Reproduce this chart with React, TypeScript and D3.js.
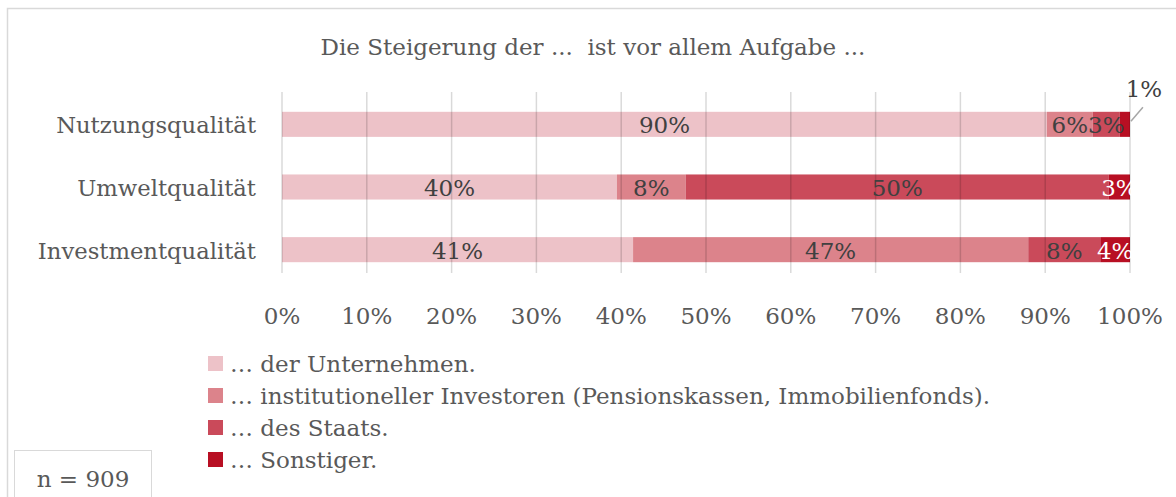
import React from "react";
import * as d3 from "d3";

const categories = ["Nutzungsqualität", "Umweltqualität", "Investmentqualität"];
const seriesNames = [
  "… der Unternehmen.",
  "… institutioneller Investoren (Pensionskassen, Immobilienfonds).",
  "… des Staats.",
  "… Sonstiger.",
];
// shares per category (series order as above)
const unternehmen = [0.902, 0.395, 0.414];
const investoren = [0.054, 0.081, 0.466];
const staat = [0.032, 0.499, 0.085];
const sonstige = [0.012, 0.025, 0.035];
// printed data labels
const labelsUnternehmen = ["90%", "40%", "41%"];
const labelsInvestoren = ["6%", "8%", "47%"];
const labelsStaat = ["3%", "50%", "8%"];
const labelsSonstige = ["1%", "3%", "4%"];
const ticks = [0, 0.1, 0.2, 0.3, 0.4, 0.5, 0.6, 0.7, 0.8, 0.9, 1.0];
const title = "Die Steigerung der ...  ist vor allem Aufgabe ...";
const nText = "n = 909";

const colors = ["#EDC2C8", "#DC838B", "#CA4A5A", "#B80F23"];
const labelColors = ["#404040", "#404040", "#404040", "#FFFFFF"];
const FONT = "'DejaVu Serif', serif";

export default function App() {
  const W = 1176;
  const H = 497;
  const x = d3.scaleLinear().domain([0, 1]).range([282, 1130]);
  const y = d3
    .scaleBand<string>()
    .domain(categories)
    .range([93, 281])
    .paddingInner(0.6)
    .paddingOuter(0.3);

  const series = [unternehmen, investoren, staat, sonstige];
  const labels = [labelsUnternehmen, labelsInvestoren, labelsStaat, labelsSonstige];
  const rows = categories.map((c, i) => {
    const obj: any = { cat: c };
    series.forEach((s, k) => (obj["s" + k] = s[i]));
    return obj;
  });
  const stack = d3.stack<any>().keys(["s0", "s1", "s2", "s3"])(rows);

  const bw = y.bandwidth();

  return (
    <svg
      width={W}
      height={H}
      style={{ position: "absolute", left: 0, top: 0, background: "#fff" }}
    >
      <rect x={7.5} y={8.5} width={1300} height={700} fill="#fff" stroke="#D9D9D9" strokeWidth={1.5} />
      <text
        x={593}
        y={55}
        textAnchor="middle"
        fontFamily={FONT}
        fontSize={23}
        fill="#595959"
        style={{ whiteSpace: "pre" }}
      >
        {title}
      </text>

      {/* bars */}
      {stack.map((layer, k) =>
        layer.map((d, i) => (
          <rect
            key={k + "-" + i}
            x={x(d[0])}
            y={y(categories[i])}
            width={x(d[1]) - x(d[0])}
            height={bw}
            fill={colors[k]}
          />
        ))
      )}

      {/* gridlines on top */}
      {ticks.map((t) => (
        <line
          key={"g" + t}
          x1={x(t)}
          x2={x(t)}
          y1={92}
          y2={273}
          stroke="rgba(0,0,0,0.15)"
          strokeWidth={1.5}
        />
      ))}

      {/* data labels */}
      {stack.map((layer, k) =>
        layer.map((d, i) => {
          const isOutside = k === 3 && i === 0;
          if (isOutside) return null;
          return (
            <text
              key={"l" + k + "-" + i}
              x={(x(d[0]) + x(d[1])) / 2}
              y={(y(categories[i]) as number) + bw / 2 + 9}
              textAnchor="middle"
              fontFamily={FONT}
              fontSize={23}
              fill={labelColors[k]}
            >
              {labels[k][i]}
            </text>
          );
        })
      )}
      {/* outside label for small segment */}
      {(() => {
        const d = stack[3][0];
        const cx = (x(d[0]) + x(d[1])) / 2;
        const cy = (y(categories[0]) as number) + bw / 2;
        return (
          <g>
            <line x1={cx + 6} y1={cy - 3} x2={cx + 18} y2={cy - 17} stroke="#A6A6A6" strokeWidth={1.5} />
            <text x={cx + 19} y={cy - 27} textAnchor="middle" fontFamily={FONT} fontSize={23} fill="#404040">
              {labels[3][0]}
            </text>
          </g>
        );
      })()}

      {/* category labels */}
      {categories.map((c) => (
        <text
          key={c}
          x={256}
          y={(y(c) as number) + bw / 2 + 9}
          textAnchor="end"
          fontFamily={FONT}
          fontSize={22.7}
          fill="#595959"
        >
          {c}
        </text>
      ))}

      {/* tick labels */}
      {ticks.map((t) => (
        <text
          key={"t" + t}
          x={x(t)}
          y={324}
          textAnchor="middle"
          fontFamily={FONT}
          fontSize={23}
          fill="#595959"
        >
          {d3.format(".0%")(t)}
        </text>
      ))}

      {/* legend */}
      {seriesNames.map((n, k) => (
        <g key={n} transform={`translate(208, ${356 + k * 32})`}>
          <rect x={0} y={0} width={15} height={15} fill={colors[k]} />
          <text x={22} y={16} fontFamily={FONT} fontSize={23} fill="#595959">
            {n}
          </text>
        </g>
      ))}

      {/* n box */}
      <rect x={14.5} y={450.5} width={137} height={80} fill="#fff" stroke="#D9D9D9" strokeWidth={1} />
      <text x={83} y={487} textAnchor="middle" fontFamily={FONT} fontSize={23} fill="#595959">
        {nText}
      </text>
    </svg>
  );
}
